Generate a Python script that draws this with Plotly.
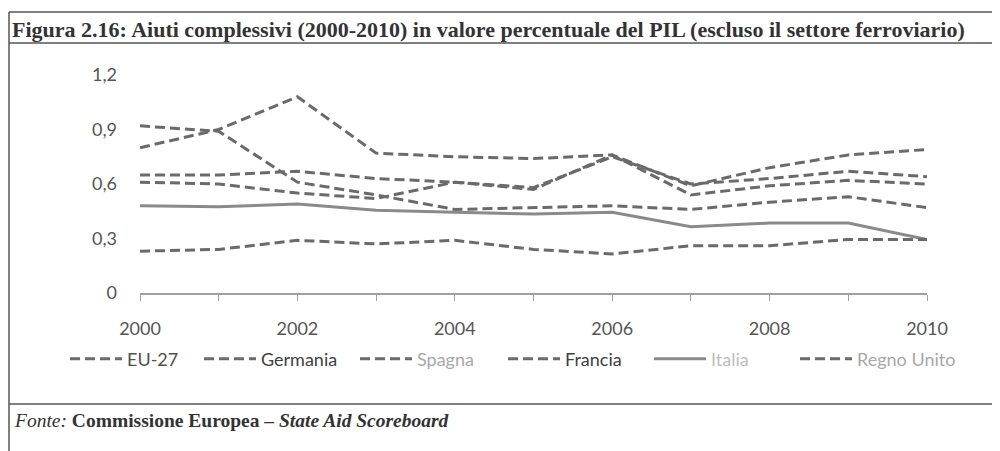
import plotly.graph_objects as go

years = [2000, 2001, 2002, 2003, 2004, 2005, 2006, 2007, 2008, 2009, 2010]
tick_labels = ["2000", "", "2002", "", "2004", "", "2006", "", "2008", "", "2010"]
y_ticks = [0, 0.3, 0.6, 0.9, 1.2]
y_tick_labels = ["0", "0,3", "0,6", "0,9", "1,2"]

eu27 = [0.65, 0.65, 0.67, 0.63, 0.61, 0.58, 0.75, 0.60, 0.63, 0.67, 0.64]
germania = [0.92, 0.89, 0.61, 0.54, 0.46, 0.47, 0.48, 0.46, 0.50, 0.53, 0.47]
spagna = [0.61, 0.60, 0.55, 0.52, 0.61, 0.57, 0.76, 0.54, 0.59, 0.62, 0.60]
francia = [0.80, 0.90, 1.08, 0.77, 0.75, 0.74, 0.76, 0.59, 0.69, 0.76, 0.79]
italia = [0.48, 0.475, 0.49, 0.455, 0.445, 0.435, 0.445, 0.365, 0.385, 0.385, 0.295]
regno_unito = [0.23, 0.24, 0.29, 0.27, 0.29, 0.24, 0.215, 0.26, 0.26, 0.295, 0.295]

series = [
    ("EU-27", eu27, "#505050", "dash"),
    ("Germania", germania, "#404040", "dash"),
    ("Spagna", spagna, "#a8a8a8", "dash"),
    ("Francia", francia, "#404040", "dash"),
    ("Italia", italia, "#bdbdbd", "solid"),
    ("Regno Unito", regno_unito, "#a8a8a8", "dash"),
]

# page offset of the browser body margin
OFF = 8
W, H = 1000 - OFF, 451 - OFF
L, T = 140 - OFF, 75 - OFF
R = W - (927 - OFF)
B = H - (293 - OFF)
pw, ph = W - L - R, H - T - B

def px(x):
    return (x - OFF - L) / pw

def py(y):
    return (H - B - (y - OFF)) / ph

# left edge (page px) of each legend entry's text
legend_text_x = [128, 262, 418, 566, 712, 858]

fig = go.Figure()
legend_layouts = {}
for i, (name, vals, tcol, style) in enumerate(series):
    if style == "solid":
        line = dict(color="#8a8a8a", width=3)
    else:
        line = dict(color="#6a6a6a", width=3, dash="10px,5px")
    lname = "legend" if i == 0 else f"legend{i + 1}"
    fig.add_trace(go.Scatter(
        x=years, y=vals, mode="lines", line=line,
        name=f"<span style='color:{tcol}'>{name}</span>",
        legend=lname, showlegend=True,
    ))
    legend_layouts[lname] = dict(
        orientation="h", x=px(legend_text_x[i] - 63), xanchor="left",
        y=py(359), yanchor="middle",
        font=dict(size=18), bgcolor="rgba(0,0,0,0)", itemwidth=52,
    )

line_col = "#555555"
shapes = [
    dict(type="line", xref="paper", yref="paper", x0=px(9), x1=px(1000), y0=py(12), y1=py(12),
         line=dict(color=line_col, width=1.5)),
    dict(type="line", xref="paper", yref="paper", x0=px(9), x1=px(1000), y0=py(43), y1=py(43),
         line=dict(color=line_col, width=1.5)),
    dict(type="line", xref="paper", yref="paper", x0=px(9), x1=px(1000), y0=py(404), y1=py(404),
         line=dict(color=line_col, width=1.5)),
    dict(type="line", xref="paper", yref="paper", x0=px(9), x1=px(9), y0=py(12), y1=py(451),
         line=dict(color=line_col, width=1.5)),
]

fig.update_layout(
    width=W, height=H,
    margin=dict(l=L, r=R, t=T, b=B),
    paper_bgcolor="white", plot_bgcolor="white",
    separators=",.",
    showlegend=True,
    font=dict(family="Lato, 'Open Sans', sans-serif", size=18, color="#555555"),
    title=dict(
        text="<b>Figura 2.16: Aiuti complessivi (2000-2010) in valore percentuale del PIL (escluso il settore ferroviario)</b>",
        font=dict(family="'Liberation Serif', 'Times New Roman', serif", size=22, color="#333333"),
        x=(12 - OFF) / W, xanchor="left", xref="container",
        y=1 - (29 - OFF) / H, yanchor="middle", yref="container",
    ),
    xaxis=dict(
        range=[2000, 2010], tickvals=years, ticktext=tick_labels,
        showgrid=False, zeroline=False, showline=True, linecolor="#a0a0a0", linewidth=1.5,
        ticks="outside", ticklen=6, tickcolor="#a0a0a0", tickwidth=1,
        ticklabelstandoff=13,
    ),
    yaxis=dict(
        range=[0, 1.2], tickvals=y_ticks, ticktext=y_tick_labels,
        showgrid=False, zeroline=False, showline=False, ticks="",
        ticklabelstandoff=22,
    ),
    shapes=shapes,
    annotations=[
        dict(
            text="<i>Fonte:</i> <b>Commissione Europea – <i>State Aid Scoreboard</i></b>",
            xref="paper", yref="paper", x=px(12), y=py(420), xanchor="left", yanchor="middle",
            showarrow=False,
            font=dict(family="'Liberation Serif', 'Times New Roman', serif", size=19.5, color="#333333"),
        )
    ],
    **legend_layouts,
)

fig.write_html("out.html")
